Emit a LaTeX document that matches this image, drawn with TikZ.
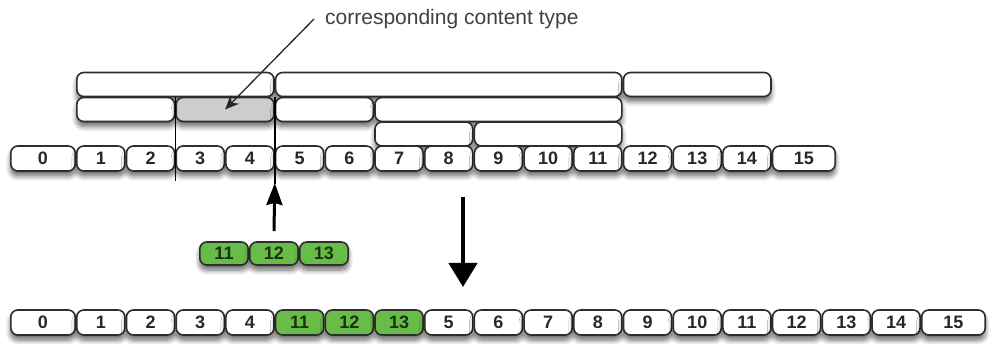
\documentclass[tikz,border=0pt]{standalone}
\usepackage{fontspec}
\setmainfont{Liberation Sans}
\usetikzlibrary{shadows.blur,arrows.meta,calc}
\definecolor{edge}{RGB}{45,45,45}
\definecolor{grn}{RGB}{104,188,72}
\definecolor{grntxt}{RGB}{25,50,15}
\definecolor{shade}{RGB}{205,205,205}
\definecolor{txt}{RGB}{40,40,40}
\tikzset{
  box/.style={draw=edge, line width=1.6pt, rounded corners=7pt, fill=white,
    inner sep=0pt, text=txt,
    font=\fontsize{18}{18}\selectfont\bfseries,
    blur shadow={shadow xshift=0pt, shadow yshift=-5pt, shadow blur steps=8, shadow opacity=60, shadow blur radius=5pt}},
  gbox/.style={box, fill=grn, text=grntxt},
  graybox/.style={box, fill=shade},
  guide/.style={draw=black, line width=1.7pt},
  thinarrow/.style={draw=black!85, line width=1.3pt, -{Stealth[length=14pt,width=12pt]}},
  uparrow/.style={draw=black, line width=3pt, -{Stealth[length=22pt,width=16pt,inset=2pt]}},
  downarrow/.style={draw=black, line width=4.5pt, -{Stealth[length=24pt,width=28pt,inset=0pt]}},
  lbl/.style={inner sep=0pt, text=black!75, font=\fontsize{21}{21}\selectfont}
}
% #1 style, #2 name, #3 left, #4 right, #5 y centre, #6 height, #7 text
\newcommand\spanbox[7]{%
  \pgfmathsetmacro\sbw{(#4)-(#3)-1.6}%
  \pgfmathsetmacro\sbx{((#3)+(#4))/2}%
  \node[#1, minimum width=\sbw pt, minimum height=#6pt] (#2) at (\sbx,#5) {#7};}
\begin{document}
\begin{tikzpicture}[x=1pt,y=-1pt]
\useasboundingbox (0,0) rectangle (989,344);
% label
\node[lbl, anchor=west] (label) at (325,19) {corresponding content type};
% row 1
\spanbox{box}{ra}{76}{274.8}{84.5}{24}{}
\spanbox{box}{rb}{274.8}{622.7}{84.5}{24}{}
\spanbox{box}{rc}{622.7}{771.8}{84.5}{24}{}
% row 2
\spanbox{box}{sa}{76}{175.4}{109.5}{24}{}
\spanbox{graybox}{sb}{175.4}{274.8}{109.5}{24}{}
\spanbox{box}{sc}{274.8}{374.2}{109.5}{24}{}
\spanbox{box}{sd}{374.2}{622.7}{109.5}{24}{}
% row 3
\spanbox{box}{ua}{374.2}{473.6}{134}{24}{}
\spanbox{box}{ub}{473.6}{622.7}{134}{24}{}
% cells, top
\foreach \k in {0,...,15}{
  \pgfmathsetmacro\lft{\k==0 ? 10 : 76+(\k-1)*49.7}
  \pgfmathsetmacro\rgt{\k==15 ? 836 : 76+\k*49.7}
  \spanbox{box}{t\k}{\lft}{\rgt}{158.5}{25}{\k}
}
% guide lines
\coordinate (g1top) at (175.4,97.5);
\coordinate (g1bot) at (175.4,181);
\coordinate (g2top) at (274.8,97.5);
\coordinate (g2bot) at (274.8,184);
\draw[guide] (g1top) -- (g1bot);
\draw[guide] (g2top) -- (g2bot);
% label arrow
\coordinate (lstart) at (314,19);
\draw[thinarrow] (lstart) -- (sb.center);
% inserted cells
\spanbox{gbox}{n11}{199}{249}{253.5}{23}{11}
\spanbox{gbox}{n12}{249}{299}{253.5}{23}{12}
\spanbox{gbox}{n13}{299}{349}{253.5}{23}{13}
\coordinate (uptip) at (274.8,183);
\draw[uparrow] ([yshift=10pt]n12.north) -- (uptip);
% big down arrow
\coordinate (dstart) at (463,197);
\coordinate (dend) at (463,287);
\draw[downarrow] (dstart) -- (dend);
% cells, bottom
\foreach \lab [count=\i from 0] in {0,1,2,3,4,11,12,13,5,6,7,8,9,10,11,12,13,14,15}{
  \pgfmathsetmacro\lft{\i==0 ? 10 : 76+(\i-1)*49.7}
  \pgfmathsetmacro\rgt{\i==18 ? 986 : 76+\i*49.7}
  \ifnum\i>4 \ifnum\i<8 \def\bst{gbox}\else\def\bst{box}\fi\else\def\bst{box}\fi
  \spanbox{\bst}{b\i}{\lft}{\rgt}{322.5}{25}{\lab}
}
\end{tikzpicture}
\end{document}
